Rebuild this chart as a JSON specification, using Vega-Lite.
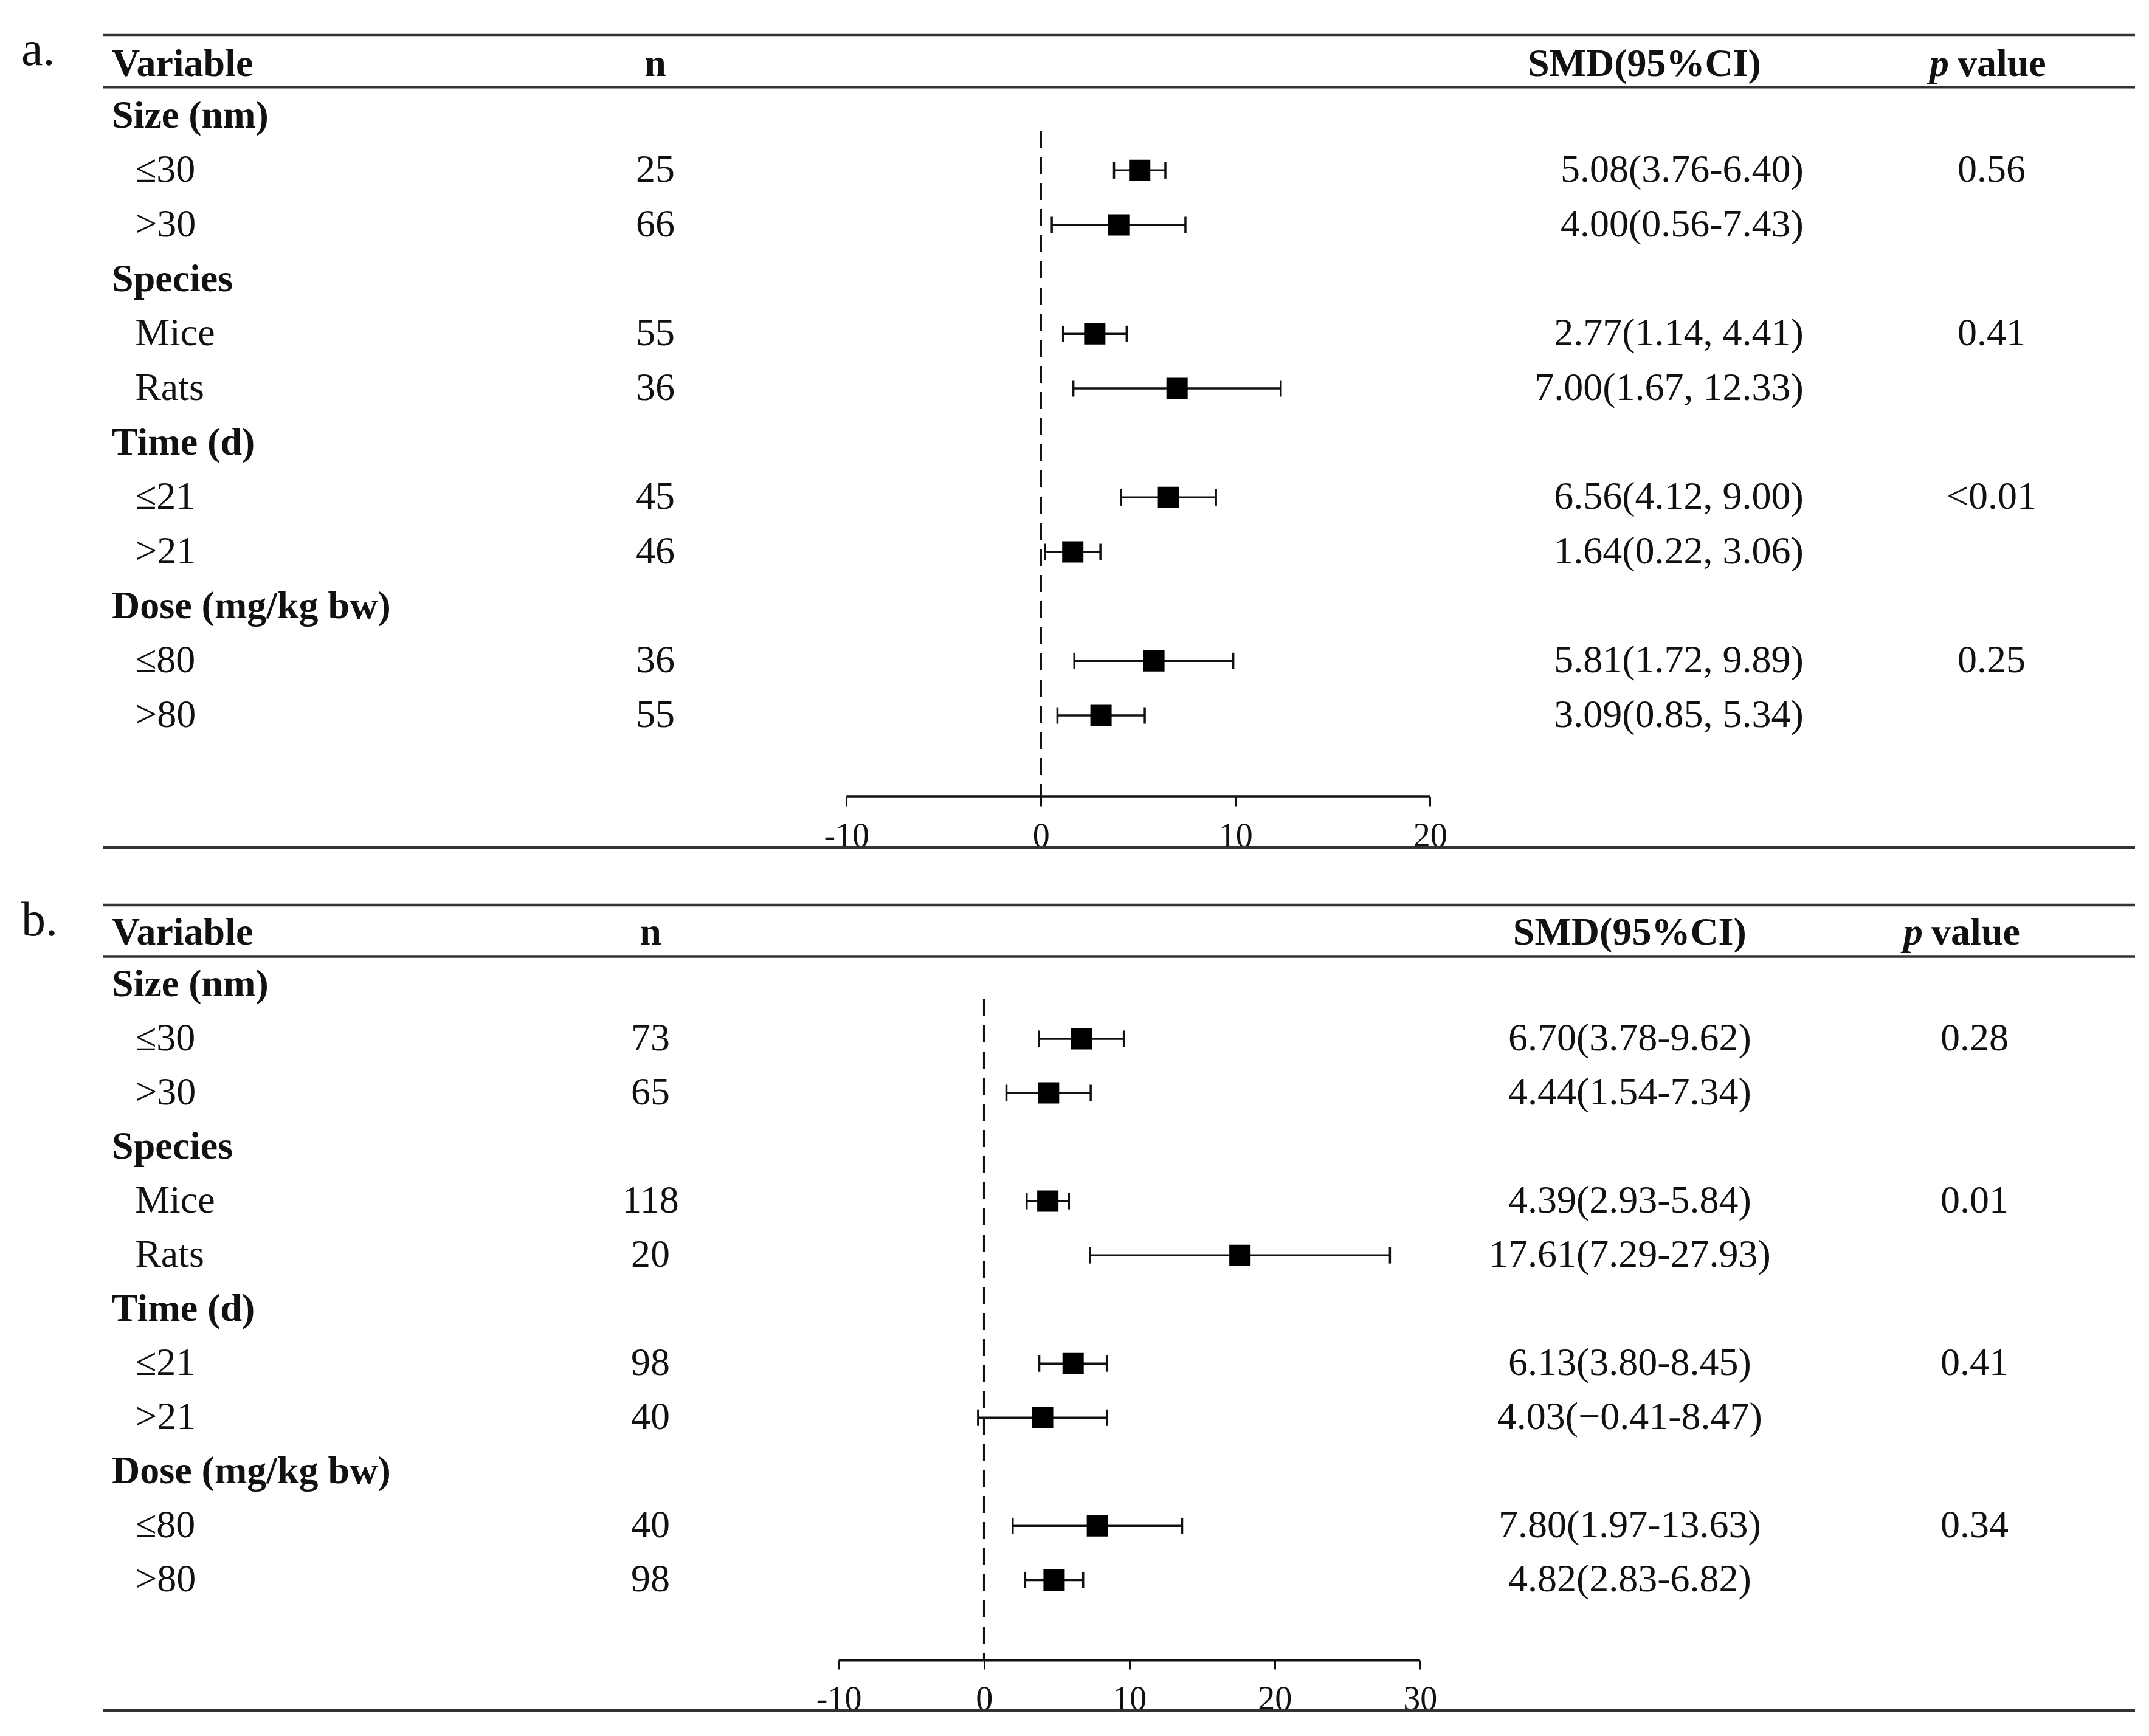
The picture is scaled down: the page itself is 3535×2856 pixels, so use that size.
{
  "$schema": "https://vega.github.io/schema/vega-lite/v6.json",
  "background": "white",
  "padding": {"left": 34, "top": 43, "right": 10, "bottom": 10},
  "bounds": "flush",
  "spacing": 95,
  "config": {
    "view": {"stroke": null},
    "text": {"font": "Liberation Serif", "fontSize": 64, "color": "#111"}
  },
  "datasets": {
    "a": [
      {"row": 1, "label": "Size (nm)", "heading": true},
      {"row": 2, "label": "≤30", "heading": false, "n": "25", "smd": 5.08, "lo": 3.76, "hi": 6.40, "ci": "5.08(3.76-6.40)", "p": "0.56"},
      {"row": 3, "label": ">30", "heading": false, "n": "66", "smd": 4.00, "lo": 0.56, "hi": 7.43, "ci": "4.00(0.56-7.43)", "p": ""},
      {"row": 4, "label": "Species", "heading": true},
      {"row": 5, "label": "Mice", "heading": false, "n": "55", "smd": 2.77, "lo": 1.14, "hi": 4.41, "ci": "2.77(1.14, 4.41)", "p": "0.41"},
      {"row": 6, "label": "Rats", "heading": false, "n": "36", "smd": 7.00, "lo": 1.67, "hi": 12.33, "ci": "7.00(1.67, 12.33)", "p": ""},
      {"row": 7, "label": "Time (d)", "heading": true},
      {"row": 8, "label": "≤21", "heading": false, "n": "45", "smd": 6.56, "lo": 4.12, "hi": 9.00, "ci": "6.56(4.12, 9.00)", "p": "<0.01"},
      {"row": 9, "label": ">21", "heading": false, "n": "46", "smd": 1.64, "lo": 0.22, "hi": 3.06, "ci": "1.64(0.22, 3.06)", "p": ""},
      {"row": 10, "label": "Dose (mg/kg bw)", "heading": true},
      {"row": 11, "label": "≤80", "heading": false, "n": "36", "smd": 5.81, "lo": 1.72, "hi": 9.89, "ci": "5.81(1.72, 9.89)", "p": "0.25"},
      {"row": 12, "label": ">80", "heading": false, "n": "55", "smd": 3.09, "lo": 0.85, "hi": 5.34, "ci": "3.09(0.85, 5.34)", "p": ""}
    ],
    "b": [
      {"row": 1, "label": "Size (nm)", "heading": true},
      {"row": 2, "label": "≤30", "heading": false, "n": "73", "smd": 6.70, "lo": 3.78, "hi": 9.62, "ci": "6.70(3.78-9.62)", "p": "0.28"},
      {"row": 3, "label": ">30", "heading": false, "n": "65", "smd": 4.44, "lo": 1.54, "hi": 7.34, "ci": "4.44(1.54-7.34)", "p": ""},
      {"row": 4, "label": "Species", "heading": true},
      {"row": 5, "label": "Mice", "heading": false, "n": "118", "smd": 4.39, "lo": 2.93, "hi": 5.84, "ci": "4.39(2.93-5.84)", "p": "0.01"},
      {"row": 6, "label": "Rats", "heading": false, "n": "20", "smd": 17.61, "lo": 7.29, "hi": 27.93, "ci": "17.61(7.29-27.93)", "p": ""},
      {"row": 7, "label": "Time (d)", "heading": true},
      {"row": 8, "label": "≤21", "heading": false, "n": "98", "smd": 6.13, "lo": 3.80, "hi": 8.45, "ci": "6.13(3.80-8.45)", "p": "0.41"},
      {"row": 9, "label": ">21", "heading": false, "n": "40", "smd": 4.03, "lo": -0.41, "hi": 8.47, "ci": "4.03(−0.41-8.47)", "p": ""},
      {"row": 10, "label": "Dose (mg/kg bw)", "heading": true},
      {"row": 11, "label": "≤80", "heading": false, "n": "40", "smd": 7.80, "lo": 1.97, "hi": 13.63, "ci": "7.80(1.97-13.63)", "p": "0.34"},
      {"row": 12, "label": ">80", "heading": false, "n": "98", "smd": 4.82, "lo": 2.83, "hi": 6.82, "ci": "4.82(2.83-6.82)", "p": ""}
    ]
  },
  "vconcat": [
    {
      "width": 3342,
      "height": 1336,
      "data": {"name": "a"},
      "resolve": {"scale": {"x": "independent"}},
      "layer": [
        {
          "layer": [
            {
              "data": {"values": [{"t": "a."}]},
              "mark": {"type": "text", "align": "left", "baseline": "alphabetic", "fontSize": 80},
              "encoding": {
                "x": {"datum": -4.04, "type": "quantitative", "scale": {"domain": [0, 100], "nice": false, "zero": false}, "axis": null},
                "y": {"datum": 0.07, "type": "quantitative", "scale": {"domain": [-0.48, 14.42], "reverse": true, "nice": false, "zero": false}, "axis": null},
                "text": {"field": "t"}
              }
            },
            {
              "data": {"values": [{"t": "Variable"}]},
              "mark": {"type": "text", "align": "left", "baseline": "middle", "fontWeight": "bold"},
              "encoding": {
                "x": {"datum": 0.42, "type": "quantitative", "scale": {"domain": [0, 100], "nice": false, "zero": false}, "axis": null},
                "y": {"datum": 0.05, "type": "quantitative", "scale": {"domain": [-0.48, 14.42], "reverse": true, "nice": false, "zero": false}, "axis": null},
                "text": {"field": "t"}
              }
            },
            {
              "data": {"values": [{"t": "n", "c": 27.17}, {"t": "SMD(95%CI)", "c": 75.85}]},
              "mark": {"type": "text", "align": "center", "baseline": "middle", "fontWeight": "bold"},
              "encoding": {
                "x": {"field": "c", "type": "quantitative", "scale": {"domain": [0, 100], "nice": false, "zero": false}, "axis": null},
                "y": {"datum": 0.05, "type": "quantitative", "scale": {"domain": [-0.48, 14.42], "reverse": true, "nice": false, "zero": false}, "axis": null},
                "text": {"field": "t"}
              }
            },
            {
              "data": {"values": [{"t": "p"}]},
              "mark": {"type": "text", "align": "right", "baseline": "middle", "fontWeight": "bold", "fontStyle": "italic", "dx": -6},
              "encoding": {
                "x": {"datum": 91.02, "type": "quantitative", "scale": {"domain": [0, 100], "nice": false, "zero": false}, "axis": null},
                "y": {"datum": 0.05, "type": "quantitative", "scale": {"domain": [-0.48, 14.42], "reverse": true, "nice": false, "zero": false}, "axis": null},
                "text": {"field": "t"}
              }
            },
            {
              "data": {"values": [{"t": "value"}]},
              "mark": {"type": "text", "align": "left", "baseline": "middle", "fontWeight": "bold", "dx": 8},
              "encoding": {
                "x": {"datum": 91.02, "type": "quantitative", "scale": {"domain": [0, 100], "nice": false, "zero": false}, "axis": null},
                "y": {"datum": 0.05, "type": "quantitative", "scale": {"domain": [-0.48, 14.42], "reverse": true, "nice": false, "zero": false}, "axis": null},
                "text": {"field": "t"}
              }
            },
            {
              "transform": [{"filter": {"field": "heading", "equal": true}}],
              "mark": {"type": "text", "align": "left", "baseline": "middle", "fontWeight": "bold"},
              "encoding": {
                "x": {"datum": 0.42, "type": "quantitative", "scale": {"domain": [0, 100], "nice": false, "zero": false}, "axis": null},
                "y": {"field": "row", "type": "quantitative", "scale": {"domain": [-0.48, 14.42], "reverse": true, "nice": false, "zero": false}, "axis": null},
                "text": {"field": "label"}
              }
            },
            {
              "transform": [{"filter": {"field": "heading", "equal": false}}],
              "mark": {"type": "text", "align": "left", "baseline": "middle"},
              "encoding": {
                "x": {"datum": 1.56, "type": "quantitative", "scale": {"domain": [0, 100], "nice": false, "zero": false}, "axis": null},
                "y": {"field": "row", "type": "quantitative", "scale": {"domain": [-0.48, 14.42], "reverse": true, "nice": false, "zero": false}, "axis": null},
                "text": {"field": "label"}
              }
            },
            {
              "transform": [{"filter": {"field": "heading", "equal": false}}],
              "mark": {"type": "text", "align": "center", "baseline": "middle"},
              "encoding": {
                "x": {"datum": 27.17, "type": "quantitative", "scale": {"domain": [0, 100], "nice": false, "zero": false}, "axis": null},
                "y": {"field": "row", "type": "quantitative", "scale": {"domain": [-0.48, 14.42], "reverse": true, "nice": false, "zero": false}, "axis": null},
                "text": {"field": "n"}
              }
            },
            {
              "transform": [{"filter": {"field": "heading", "equal": false}}],
              "mark": {"type": "text", "align": "right", "baseline": "middle"},
              "encoding": {
                "x": {"datum": 83.69, "type": "quantitative", "scale": {"domain": [0, 100], "nice": false, "zero": false}, "axis": null},
                "y": {"field": "row", "type": "quantitative", "scale": {"domain": [-0.48, 14.42], "reverse": true, "nice": false, "zero": false}, "axis": null},
                "text": {"field": "ci"}
              }
            },
            {
              "transform": [{"filter": {"field": "heading", "equal": false}}],
              "mark": {"type": "text", "align": "center", "baseline": "middle"},
              "encoding": {
                "x": {"datum": 92.94, "type": "quantitative", "scale": {"domain": [0, 100], "nice": false, "zero": false}, "axis": null},
                "y": {"field": "row", "type": "quantitative", "scale": {"domain": [-0.48, 14.42], "reverse": true, "nice": false, "zero": false}, "axis": null},
                "text": {"field": "p"}
              }
            },
            {
              "data": {"values": [{"line": "top"}]},
              "mark": {"type": "rule", "color": "#333", "strokeWidth": 4.5},
              "encoding": {
                "y": {"datum": -0.48, "type": "quantitative", "scale": {"domain": [-0.48, 14.42], "reverse": true, "nice": false, "zero": false}, "axis": null}
              }
            },
            {
              "data": {"values": [{"line": "header"}]},
              "mark": {"type": "rule", "color": "#333", "strokeWidth": 4.5},
              "encoding": {
                "y": {"datum": 0.47, "type": "quantitative", "scale": {"domain": [-0.48, 14.42], "reverse": true, "nice": false, "zero": false}, "axis": null}
              }
            },
            {
              "data": {"values": [{"line": "bottom"}]},
              "mark": {"type": "rule", "color": "#333", "strokeWidth": 4.5},
              "encoding": {
                "y": {"datum": 14.42, "type": "quantitative", "scale": {"domain": [-0.48, 14.42], "reverse": true, "nice": false, "zero": false}, "axis": null}
              }
            }
          ]
        },
        {
          "layer": [
            {
              "data": {"values": [{"ref": 0}]},
              "mark": {"type": "rule", "color": "#111", "strokeWidth": 3.5, "strokeDash": [28, 15]},
              "encoding": {
                "x": {"datum": 0, "type": "quantitative", "scale": {"domain": [-48.2, 56.25], "nice": false, "zero": false}, "axis": {"values": [-10, 0, 10, 20], "domain": false, "grid": false, "tickSize": 15, "tickWidth": 3, "tickColor": "#111", "labelFont": "Liberation Serif", "labelFontSize": 56, "labelColor": "#111", "labelBaseline": "alphabetic", "labelPadding": 66, "labelFlush": false, "labelOverlap": false, "labelExpr": "replace(datum.label, '−', '-')", "offset": -83, "title": null, "orient": "bottom"}},
                "y": {"datum": 1.27, "type": "quantitative", "scale": {"domain": [-0.48, 14.42], "reverse": true, "nice": false, "zero": false}, "axis": null},
                "y2": {"datum": 13.49}
              }
            },
            {
              "data": {"values": [{"axisline": 1}]},
              "mark": {"type": "rule", "color": "#111", "strokeWidth": 4.5},
              "encoding": {
                "x": {"datum": -10, "type": "quantitative", "scale": {"domain": [-48.2, 56.25], "nice": false, "zero": false}, "axis": {"values": [-10, 0, 10, 20], "domain": false, "grid": false, "tickSize": 15, "tickWidth": 3, "tickColor": "#111", "labelFont": "Liberation Serif", "labelFontSize": 56, "labelColor": "#111", "labelBaseline": "alphabetic", "labelPadding": 66, "labelFlush": false, "labelOverlap": false, "labelExpr": "replace(datum.label, '−', '-')", "offset": -83, "title": null, "orient": "bottom"}},
                "x2": {"datum": 20},
                "y": {"datum": 13.49, "type": "quantitative", "scale": {"domain": [-0.48, 14.42], "reverse": true, "nice": false, "zero": false}, "axis": null}
              }
            },
            {
              "transform": [{"filter": "isValid(datum.smd)"}],
              "mark": {"type": "rule", "color": "#111", "strokeWidth": 3.5},
              "encoding": {
                "x": {"field": "lo", "type": "quantitative", "scale": {"domain": [-48.2, 56.25], "nice": false, "zero": false}, "axis": {"values": [-10, 0, 10, 20], "domain": false, "grid": false, "tickSize": 15, "tickWidth": 3, "tickColor": "#111", "labelFont": "Liberation Serif", "labelFontSize": 56, "labelColor": "#111", "labelBaseline": "alphabetic", "labelPadding": 66, "labelFlush": false, "labelOverlap": false, "labelExpr": "replace(datum.label, '−', '-')", "offset": -83, "title": null, "orient": "bottom"}},
                "x2": {"field": "hi"},
                "y": {"field": "row", "type": "quantitative", "scale": {"domain": [-0.48, 14.42], "reverse": true, "nice": false, "zero": false}, "axis": null}
              }
            },
            {
              "transform": [{"filter": "isValid(datum.smd)"}],
              "mark": {"type": "tick", "orient": "vertical", "size": 27, "thickness": 3.5, "color": "#111", "opacity": 1},
              "encoding": {
                "x": {"field": "lo", "type": "quantitative", "scale": {"domain": [-48.2, 56.25], "nice": false, "zero": false}, "axis": {"values": [-10, 0, 10, 20], "domain": false, "grid": false, "tickSize": 15, "tickWidth": 3, "tickColor": "#111", "labelFont": "Liberation Serif", "labelFontSize": 56, "labelColor": "#111", "labelBaseline": "alphabetic", "labelPadding": 66, "labelFlush": false, "labelOverlap": false, "labelExpr": "replace(datum.label, '−', '-')", "offset": -83, "title": null, "orient": "bottom"}},
                "y": {"field": "row", "type": "quantitative", "scale": {"domain": [-0.48, 14.42], "reverse": true, "nice": false, "zero": false}, "axis": null}
              }
            },
            {
              "transform": [{"filter": "isValid(datum.smd)"}],
              "mark": {"type": "tick", "orient": "vertical", "size": 27, "thickness": 3.5, "color": "#111", "opacity": 1},
              "encoding": {
                "x": {"field": "hi", "type": "quantitative", "scale": {"domain": [-48.2, 56.25], "nice": false, "zero": false}, "axis": {"values": [-10, 0, 10, 20], "domain": false, "grid": false, "tickSize": 15, "tickWidth": 3, "tickColor": "#111", "labelFont": "Liberation Serif", "labelFontSize": 56, "labelColor": "#111", "labelBaseline": "alphabetic", "labelPadding": 66, "labelFlush": false, "labelOverlap": false, "labelExpr": "replace(datum.label, '−', '-')", "offset": -83, "title": null, "orient": "bottom"}},
                "y": {"field": "row", "type": "quantitative", "scale": {"domain": [-0.48, 14.42], "reverse": true, "nice": false, "zero": false}, "axis": null}
              }
            },
            {
              "transform": [{"filter": "isValid(datum.smd)"}],
              "mark": {"type": "point", "shape": "square", "filled": true, "size": 1225, "color": "#000", "opacity": 1},
              "encoding": {
                "x": {"field": "smd", "type": "quantitative", "scale": {"domain": [-48.2, 56.25], "nice": false, "zero": false}, "axis": {"values": [-10, 0, 10, 20], "domain": false, "grid": false, "tickSize": 15, "tickWidth": 3, "tickColor": "#111", "labelFont": "Liberation Serif", "labelFontSize": 56, "labelColor": "#111", "labelBaseline": "alphabetic", "labelPadding": 66, "labelFlush": false, "labelOverlap": false, "labelExpr": "replace(datum.label, '−', '-')", "offset": -83, "title": null, "orient": "bottom"}},
                "y": {"field": "row", "type": "quantitative", "scale": {"domain": [-0.48, 14.42], "reverse": true, "nice": false, "zero": false}, "axis": null}
              }
            }
          ]
        }
      ]
    },
    {
      "width": 3342,
      "height": 1325,
      "data": {"name": "b"},
      "resolve": {"scale": {"x": "independent"}},
      "layer": [
        {
          "layer": [
            {
              "data": {"values": [{"t": "b."}]},
              "mark": {"type": "text", "align": "left", "baseline": "alphabetic", "fontSize": 80},
              "encoding": {
                "x": {"datum": -4.04, "type": "quantitative", "scale": {"domain": [0, 100], "nice": false, "zero": false}, "axis": null},
                "y": {"datum": 0.09, "type": "quantitative", "scale": {"domain": [-0.47, 14.41], "reverse": true, "nice": false, "zero": false}, "axis": null},
                "text": {"field": "t"}
              }
            },
            {
              "data": {"values": [{"t": "Variable"}]},
              "mark": {"type": "text", "align": "left", "baseline": "middle", "fontWeight": "bold"},
              "encoding": {
                "x": {"datum": 0.42, "type": "quantitative", "scale": {"domain": [0, 100], "nice": false, "zero": false}, "axis": null},
                "y": {"datum": 0.05, "type": "quantitative", "scale": {"domain": [-0.47, 14.41], "reverse": true, "nice": false, "zero": false}, "axis": null},
                "text": {"field": "t"}
              }
            },
            {
              "data": {"values": [{"t": "n", "c": 26.93}, {"t": "SMD(95%CI)", "c": 75.13}]},
              "mark": {"type": "text", "align": "center", "baseline": "middle", "fontWeight": "bold"},
              "encoding": {
                "x": {"field": "c", "type": "quantitative", "scale": {"domain": [0, 100], "nice": false, "zero": false}, "axis": null},
                "y": {"datum": 0.05, "type": "quantitative", "scale": {"domain": [-0.47, 14.41], "reverse": true, "nice": false, "zero": false}, "axis": null},
                "text": {"field": "t"}
              }
            },
            {
              "data": {"values": [{"t": "p"}]},
              "mark": {"type": "text", "align": "right", "baseline": "middle", "fontWeight": "bold", "fontStyle": "italic", "dx": -6},
              "encoding": {
                "x": {"datum": 89.74, "type": "quantitative", "scale": {"domain": [0, 100], "nice": false, "zero": false}, "axis": null},
                "y": {"datum": 0.05, "type": "quantitative", "scale": {"domain": [-0.47, 14.41], "reverse": true, "nice": false, "zero": false}, "axis": null},
                "text": {"field": "t"}
              }
            },
            {
              "data": {"values": [{"t": "value"}]},
              "mark": {"type": "text", "align": "left", "baseline": "middle", "fontWeight": "bold", "dx": 8},
              "encoding": {
                "x": {"datum": 89.74, "type": "quantitative", "scale": {"domain": [0, 100], "nice": false, "zero": false}, "axis": null},
                "y": {"datum": 0.05, "type": "quantitative", "scale": {"domain": [-0.47, 14.41], "reverse": true, "nice": false, "zero": false}, "axis": null},
                "text": {"field": "t"}
              }
            },
            {
              "transform": [{"filter": {"field": "heading", "equal": true}}],
              "mark": {"type": "text", "align": "left", "baseline": "middle", "fontWeight": "bold"},
              "encoding": {
                "x": {"datum": 0.42, "type": "quantitative", "scale": {"domain": [0, 100], "nice": false, "zero": false}, "axis": null},
                "y": {"field": "row", "type": "quantitative", "scale": {"domain": [-0.47, 14.41], "reverse": true, "nice": false, "zero": false}, "axis": null},
                "text": {"field": "label"}
              }
            },
            {
              "transform": [{"filter": {"field": "heading", "equal": false}}],
              "mark": {"type": "text", "align": "left", "baseline": "middle"},
              "encoding": {
                "x": {"datum": 1.56, "type": "quantitative", "scale": {"domain": [0, 100], "nice": false, "zero": false}, "axis": null},
                "y": {"field": "row", "type": "quantitative", "scale": {"domain": [-0.47, 14.41], "reverse": true, "nice": false, "zero": false}, "axis": null},
                "text": {"field": "label"}
              }
            },
            {
              "transform": [{"filter": {"field": "heading", "equal": false}}],
              "mark": {"type": "text", "align": "center", "baseline": "middle"},
              "encoding": {
                "x": {"datum": 26.93, "type": "quantitative", "scale": {"domain": [0, 100], "nice": false, "zero": false}, "axis": null},
                "y": {"field": "row", "type": "quantitative", "scale": {"domain": [-0.47, 14.41], "reverse": true, "nice": false, "zero": false}, "axis": null},
                "text": {"field": "n"}
              }
            },
            {
              "transform": [{"filter": {"field": "heading", "equal": false}}],
              "mark": {"type": "text", "align": "center", "baseline": "middle"},
              "encoding": {
                "x": {"datum": 75.13, "type": "quantitative", "scale": {"domain": [0, 100], "nice": false, "zero": false}, "axis": null},
                "y": {"field": "row", "type": "quantitative", "scale": {"domain": [-0.47, 14.41], "reverse": true, "nice": false, "zero": false}, "axis": null},
                "text": {"field": "ci"}
              }
            },
            {
              "transform": [{"filter": {"field": "heading", "equal": false}}],
              "mark": {"type": "text", "align": "center", "baseline": "middle"},
              "encoding": {
                "x": {"datum": 92.1, "type": "quantitative", "scale": {"domain": [0, 100], "nice": false, "zero": false}, "axis": null},
                "y": {"field": "row", "type": "quantitative", "scale": {"domain": [-0.47, 14.41], "reverse": true, "nice": false, "zero": false}, "axis": null},
                "text": {"field": "p"}
              }
            },
            {
              "data": {"values": [{"line": "top"}]},
              "mark": {"type": "rule", "color": "#333", "strokeWidth": 4.5},
              "encoding": {
                "y": {"datum": -0.47, "type": "quantitative", "scale": {"domain": [-0.47, 14.41], "reverse": true, "nice": false, "zero": false}, "axis": null}
              }
            },
            {
              "data": {"values": [{"line": "header"}]},
              "mark": {"type": "rule", "color": "#333", "strokeWidth": 4.5},
              "encoding": {
                "y": {"datum": 0.48, "type": "quantitative", "scale": {"domain": [-0.47, 14.41], "reverse": true, "nice": false, "zero": false}, "axis": null}
              }
            },
            {
              "data": {"values": [{"line": "bottom"}]},
              "mark": {"type": "rule", "color": "#333", "strokeWidth": 4.5},
              "encoding": {
                "y": {"datum": 14.41, "type": "quantitative", "scale": {"domain": [-0.47, 14.41], "reverse": true, "nice": false, "zero": false}, "axis": null}
              }
            }
          ]
        },
        {
          "layer": [
            {
              "data": {"values": [{"ref": 0}]},
              "mark": {"type": "rule", "color": "#111", "strokeWidth": 3.5, "strokeDash": [28, 15]},
              "encoding": {
                "x": {"datum": 0, "type": "quantitative", "scale": {"domain": [-60.6, 79.2], "nice": false, "zero": false}, "axis": {"values": [-10, 0, 10, 20, 30], "domain": false, "grid": false, "tickSize": 15, "tickWidth": 3, "tickColor": "#111", "labelFont": "Liberation Serif", "labelFontSize": 56, "labelColor": "#111", "labelBaseline": "alphabetic", "labelPadding": 66, "labelFlush": false, "labelOverlap": false, "labelExpr": "replace(datum.label, '−', '-')", "offset": -83, "title": null, "orient": "bottom"}},
                "y": {"datum": 1.27, "type": "quantitative", "scale": {"domain": [-0.47, 14.41], "reverse": true, "nice": false, "zero": false}, "axis": null},
                "y2": {"datum": 13.48}
              }
            },
            {
              "data": {"values": [{"axisline": 1}]},
              "mark": {"type": "rule", "color": "#111", "strokeWidth": 4.5},
              "encoding": {
                "x": {"datum": -10, "type": "quantitative", "scale": {"domain": [-60.6, 79.2], "nice": false, "zero": false}, "axis": {"values": [-10, 0, 10, 20, 30], "domain": false, "grid": false, "tickSize": 15, "tickWidth": 3, "tickColor": "#111", "labelFont": "Liberation Serif", "labelFontSize": 56, "labelColor": "#111", "labelBaseline": "alphabetic", "labelPadding": 66, "labelFlush": false, "labelOverlap": false, "labelExpr": "replace(datum.label, '−', '-')", "offset": -83, "title": null, "orient": "bottom"}},
                "x2": {"datum": 30},
                "y": {"datum": 13.48, "type": "quantitative", "scale": {"domain": [-0.47, 14.41], "reverse": true, "nice": false, "zero": false}, "axis": null}
              }
            },
            {
              "transform": [{"filter": "isValid(datum.smd)"}],
              "mark": {"type": "rule", "color": "#111", "strokeWidth": 3.5},
              "encoding": {
                "x": {"field": "lo", "type": "quantitative", "scale": {"domain": [-60.6, 79.2], "nice": false, "zero": false}, "axis": {"values": [-10, 0, 10, 20, 30], "domain": false, "grid": false, "tickSize": 15, "tickWidth": 3, "tickColor": "#111", "labelFont": "Liberation Serif", "labelFontSize": 56, "labelColor": "#111", "labelBaseline": "alphabetic", "labelPadding": 66, "labelFlush": false, "labelOverlap": false, "labelExpr": "replace(datum.label, '−', '-')", "offset": -83, "title": null, "orient": "bottom"}},
                "x2": {"field": "hi"},
                "y": {"field": "row", "type": "quantitative", "scale": {"domain": [-0.47, 14.41], "reverse": true, "nice": false, "zero": false}, "axis": null}
              }
            },
            {
              "transform": [{"filter": "isValid(datum.smd)"}],
              "mark": {"type": "tick", "orient": "vertical", "size": 27, "thickness": 3.5, "color": "#111", "opacity": 1},
              "encoding": {
                "x": {"field": "lo", "type": "quantitative", "scale": {"domain": [-60.6, 79.2], "nice": false, "zero": false}, "axis": {"values": [-10, 0, 10, 20, 30], "domain": false, "grid": false, "tickSize": 15, "tickWidth": 3, "tickColor": "#111", "labelFont": "Liberation Serif", "labelFontSize": 56, "labelColor": "#111", "labelBaseline": "alphabetic", "labelPadding": 66, "labelFlush": false, "labelOverlap": false, "labelExpr": "replace(datum.label, '−', '-')", "offset": -83, "title": null, "orient": "bottom"}},
                "y": {"field": "row", "type": "quantitative", "scale": {"domain": [-0.47, 14.41], "reverse": true, "nice": false, "zero": false}, "axis": null}
              }
            },
            {
              "transform": [{"filter": "isValid(datum.smd)"}],
              "mark": {"type": "tick", "orient": "vertical", "size": 27, "thickness": 3.5, "color": "#111", "opacity": 1},
              "encoding": {
                "x": {"field": "hi", "type": "quantitative", "scale": {"domain": [-60.6, 79.2], "nice": false, "zero": false}, "axis": {"values": [-10, 0, 10, 20, 30], "domain": false, "grid": false, "tickSize": 15, "tickWidth": 3, "tickColor": "#111", "labelFont": "Liberation Serif", "labelFontSize": 56, "labelColor": "#111", "labelBaseline": "alphabetic", "labelPadding": 66, "labelFlush": false, "labelOverlap": false, "labelExpr": "replace(datum.label, '−', '-')", "offset": -83, "title": null, "orient": "bottom"}},
                "y": {"field": "row", "type": "quantitative", "scale": {"domain": [-0.47, 14.41], "reverse": true, "nice": false, "zero": false}, "axis": null}
              }
            },
            {
              "transform": [{"filter": "isValid(datum.smd)"}],
              "mark": {"type": "point", "shape": "square", "filled": true, "size": 1225, "color": "#000", "opacity": 1},
              "encoding": {
                "x": {"field": "smd", "type": "quantitative", "scale": {"domain": [-60.6, 79.2], "nice": false, "zero": false}, "axis": {"values": [-10, 0, 10, 20, 30], "domain": false, "grid": false, "tickSize": 15, "tickWidth": 3, "tickColor": "#111", "labelFont": "Liberation Serif", "labelFontSize": 56, "labelColor": "#111", "labelBaseline": "alphabetic", "labelPadding": 66, "labelFlush": false, "labelOverlap": false, "labelExpr": "replace(datum.label, '−', '-')", "offset": -83, "title": null, "orient": "bottom"}},
                "y": {"field": "row", "type": "quantitative", "scale": {"domain": [-0.47, 14.41], "reverse": true, "nice": false, "zero": false}, "axis": null}
              }
            }
          ]
        }
      ]
    }
  ]
}
